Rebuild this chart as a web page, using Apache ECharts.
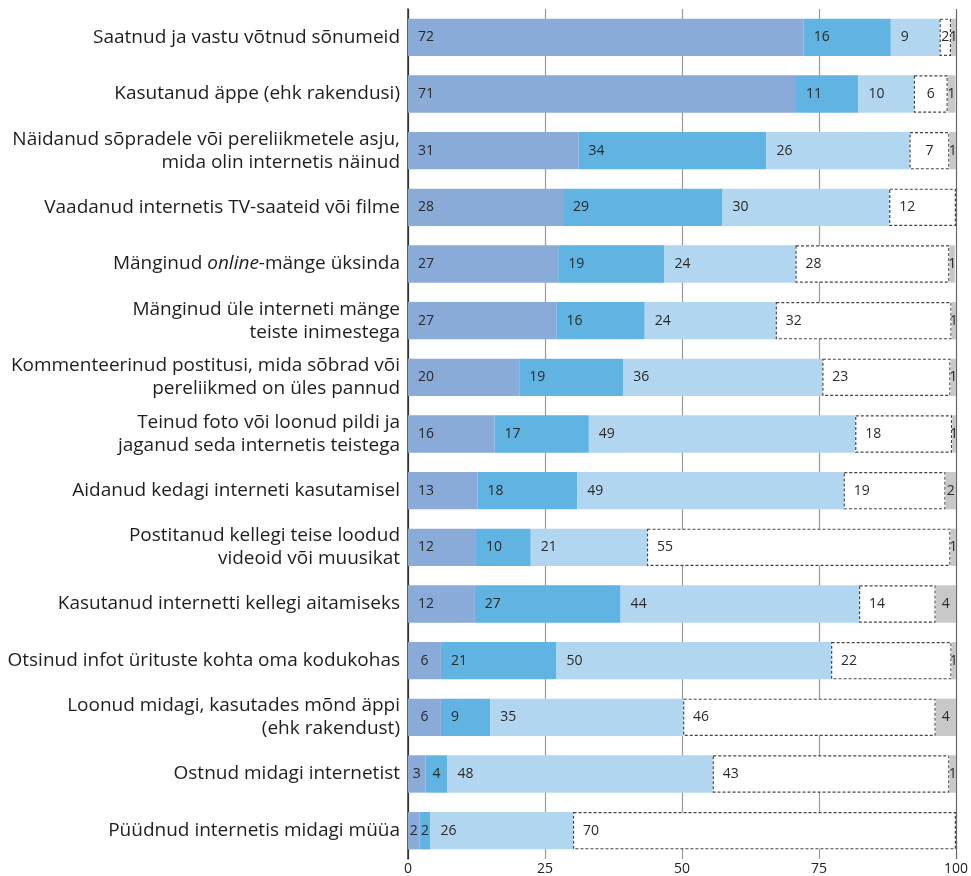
<!DOCTYPE html>
<html>
<head>
<meta charset="utf-8">
<script src="https://cdn.jsdelivr.net/npm/echarts@6/dist/echarts.min.js"></script>
<style>
  html, body { margin: 0; padding: 0; background: #fff; }
  #chart { width: 971px; height: 876px; }
</style>
</head>
<body>
<div id="chart"></div>
<script>
var categories = [
    "Saatnud ja vastu võtnud sõnumeid",
    "Kasutanud äppe (ehk rakendusi)",
    "Näidanud sõpradele või pereliikmetele asju,\nmida olin internetis näinud",
    "Vaadanud internetis TV-saateid või filme",
    "Mänginud online-mänge üksinda",
    "Mänginud üle interneti mänge\nteiste inimestega",
    "Kommenteerinud postitusi, mida sõbrad või\npereliikmed on üles pannud",
    "Teinud foto või loonud pildi ja\njaganud seda internetis teistega",
    "Aidanud kedagi interneti kasutamisel",
    "Postitanud kellegi teise loodud\nvideoid või muusikat",
    "Kasutanud internetti kellegi aitamiseks",
    "Otsinud infot ürituste kohta oma kodukohas",
    "Loonud midagi, kasutades mõnd äppi\n(ehk rakendust)",
    "Ostnud midagi internetist",
    "Püüdnud internetis midagi müüa"
];
// shares (labels show them rounded)
var s1 = [72.2, 70.8, 31.1, 28.3, 27.4, 27.1, 20.3, 15.8, 12.7, 12.4, 12.2, 6.0, 6.0, 3.2, 2.1];
var s2 = [15.9, 11.4, 34.3, 29.1, 19.4, 16.1, 19.0, 17.2, 18.2, 10.0, 26.6, 21.1, 9.0, 4.0, 2.0];
var s3 = [8.9, 10.1, 26.1, 30.4, 23.9, 23.9, 36.3, 48.6, 48.6, 21.2, 43.5, 50.1, 35.2, 48.4, 26.0];
var s4 = [2.1, 6.2, 7.3, 12.2, 28.1, 32.1, 23.4, 17.7, 18.6, 55.4, 14.0, 22.0, 46.1, 43.2, 69.9];
var s5 = [0.9, 1.4, 1.2, 0, 1.0, 0.8, 1.0, 0.7, 1.9, 1.0, 3.7, 0.8, 3.7, 1.2, 0];
var xTicks = [0, 25, 50, 75, 100];

var FONT = "Open Sans";

function items(arr) {
    return arr.map(function (v) {
        var small = Math.round(v) <= 7;
        return {
            value: v,
            label: small ? { position: "inside" } : { position: "insideLeft", distance: 10 }
        };
    });
}

function makeSeries(name, arr, style) {
    return {
        name: name,
        type: "bar",
        stack: "all",
        barCategoryGap: "34%",
        data: items(arr),
        itemStyle: style,
        label: {
            show: true,
            color: "#2a2a2a",
            fontFamily: FONT,
            fontSize: 14,
            formatter: function (p) {
                var r = Math.round(p.value);
                return r === 0 ? "" : String(r);
            }
        },
        emphasis: { disabled: true },
        silent: true
    };
}

var chart = echarts.init(document.getElementById("chart"), null, { renderer: "canvas" });
chart.setOption({
    animation: false,
    backgroundColor: "#fff",
    grid: { left: 408, right: 14, top: 9, bottom: 16, containLabel: false },
    xAxis: {
        type: "value",
        min: 0,
        max: 100,
        interval: 25,
        axisLine: { show: false },
        axisTick: { show: false },
        axisLabel: {
            margin: 3,
            color: "#222",
            fontFamily: FONT,
            fontSize: 14,
            formatter: function (v) { return xTicks.indexOf(v) >= 0 ? String(v) : ""; }
        },
        splitLine: {
            show: true,
            lineStyle: { color: ["#333", "#999", "#999", "#999", "#666"], width: 1.2 }
        }
    },
    yAxis: {
        type: "category",
        inverse: true,
        data: categories,
        axisLine: { show: true, lineStyle: { color: "#333", width: 1.5 } },
        axisTick: { show: false },
        axisLabel: {
            margin: 8,
            color: "#1e1e1e",
            fontFamily: FONT,
            fontSize: 19,
            lineHeight: 23,
            align: "right",
            formatter: function (v) {
                if (v.indexOf("online") >= 0) {
                    var parts = v.split("online");
                    return "{n|" + parts[0] + "}{i|online}{n|" + parts[1] + "}";
                }
                return v;
            },
            rich: {
                n: { fontFamily: FONT, fontSize: 19, color: "#1e1e1e" },
                i: { fontFamily: FONT, fontSize: 19, color: "#1e1e1e", fontStyle: "italic" }
            }
        }
    },
    series: [
        makeSeries("s1", s1, { color: "#8aaad8" }),
        makeSeries("s2", s2, { color: "#61b3e2" }),
        makeSeries("s3", s3, { color: "#b2d6f0" }),
        makeSeries("s4", s4, { color: "#ffffff", borderColor: "#444", borderWidth: 1.2, borderType: [3, 2] }),
        makeSeries("s5", s5, { color: "#c8c8c8" })
    ]
});
</script>
</body>
</html>
